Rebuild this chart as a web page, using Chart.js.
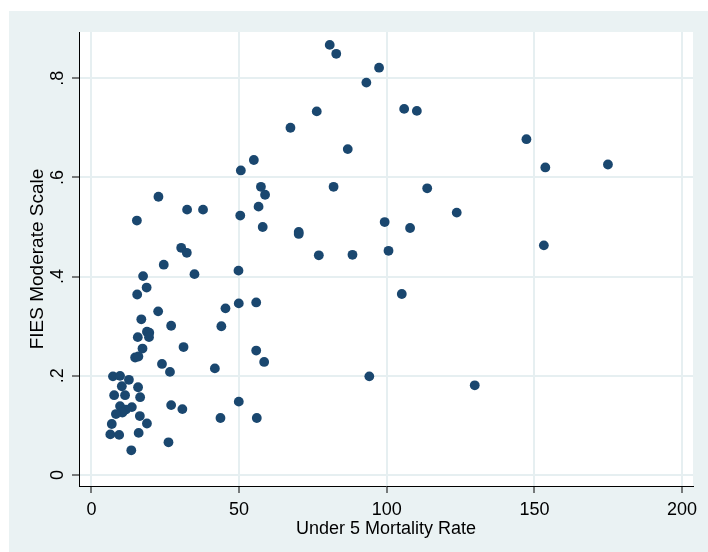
<!DOCTYPE html>
<html>
<head>
<meta charset="utf-8">
<script src="https://cdn.jsdelivr.net/npm/chart.js@4/dist/chart.umd.min.js"></script>
<style>
    body { margin: 0; background: #fff; }
    .graph { position: absolute; left: 9px; top: 11px; width: 699px; height: 541px; }
</style>
</head>
<body>
<div class="graph"><canvas id="scatterChart"></canvas></div>
<script>
// 축 눈금
const xTicks = [0, 50, 100, 150, 200];
const yTicks = [0, 0.2, 0.4, 0.6, 0.8];

// Under 5 mortality rate
const mortality = [
    17.5, 34.9, 49.8, 18.7, 15.5, 22.6, 45.4, 49.9, 55.8, 16.9,
    27.0, 44.0, 18.8, 19.6, 15.7, 19.5, 17.3, 31.2, 55.8, 14.8,
    15.9, 23.9, 58.5, 26.6, 41.8, 7.3, 9.7, 12.7, 10.3, 15.8,
    7.7, 11.4, 16.5, 27.0, 30.8, 49.9, 9.7, 13.7, 11.7, 10.5,
    8.3, 16.4, 43.7, 56.0, 6.9, 18.8, 6.4, 9.4, 16.0, 26.1,
    13.5, 55.0, 50.6, 57.4, 58.8, 22.7, 32.4, 37.8, 56.6, 15.4,
    50.4, 58.0, 70.2, 70.2, 30.4, 32.3, 24.5, 80.7, 82.9, 97.4,
    93.1, 76.3, 105.9, 110.2, 67.4, 86.8, 82.0, 113.7, 99.3, 107.9,
    77.0, 88.4, 100.6, 105.1, 147.3, 153.7, 174.9, 123.7, 153.2, 94.1,
    129.8
];

// FIES moderate scale
const fies = [
    0.401, 0.405, 0.412, 0.378, 0.364, 0.330, 0.336, 0.346, 0.348, 0.314,
    0.301, 0.300, 0.289, 0.287, 0.278, 0.278, 0.255, 0.258, 0.251, 0.237,
    0.239, 0.224, 0.228, 0.208, 0.215, 0.199, 0.200, 0.192, 0.179, 0.177,
    0.161, 0.161, 0.157, 0.141, 0.133, 0.148, 0.139, 0.137, 0.132, 0.126,
    0.123, 0.119, 0.115, 0.115, 0.103, 0.104, 0.082, 0.081, 0.085, 0.066,
    0.050, 0.635, 0.614, 0.581, 0.565, 0.561, 0.535, 0.535, 0.541, 0.513,
    0.523, 0.500, 0.490, 0.486, 0.458, 0.448, 0.424, 0.867, 0.849, 0.821,
    0.791, 0.733, 0.738, 0.734, 0.700, 0.657, 0.581, 0.578, 0.510, 0.498,
    0.443, 0.444, 0.452, 0.365, 0.677, 0.620, 0.626, 0.529, 0.463, 0.199,
    0.181
];

const points = mortality.map((x, i) => ({ x: x, y: fies[i] }));

const fontFamily = '"Liberation Sans", Arial, sans-serif';

// 배경과 흰색 플롯 영역
const backgroundPlugin = {
    id: 'stataBackground',
    beforeDraw(chart) {
        const ctx = chart.ctx;
        const area = chart.chartArea;
        ctx.save();
        ctx.fillStyle = '#EAF2F3';
        ctx.fillRect(0, 0, chart.width, chart.height);
        ctx.fillStyle = '#FFFFFF';
        ctx.fillRect(area.left, area.top, area.right - area.left, area.bottom - area.top);
        ctx.restore();
    }
};

// 세로 눈금 라벨 (90도 회전)
const yLabelPlugin = {
    id: 'rotatedYLabels',
    afterDraw(chart) {
        const ctx = chart.ctx;
        const yScale = chart.scales.y;
        ctx.save();
        ctx.fillStyle = '#000';
        ctx.font = '18px ' + fontFamily;
        ctx.textAlign = 'center';
        ctx.textBaseline = 'middle';
        yTicks.forEach(v => {
            const py = yScale.getPixelForValue(v);
            const label = v === 0 ? '0' : String(v).replace(/^0/, '');
            ctx.save();
            ctx.translate(49, py);
            ctx.rotate(-Math.PI / 2);
            ctx.fillText(label, 0, 0);
            ctx.restore();
        });
        ctx.restore();
    }
};

const ctx = document.getElementById('scatterChart').getContext('2d');
new Chart(ctx, {
    type: 'scatter',
    data: {
        datasets: [{
            data: points,
            backgroundColor: '#1A476F',
            borderWidth: 0,
            pointRadius: 4.9
        }]
    },
    options: {
        responsive: true,
        maintainAspectRatio: false,
        animation: false,
        layout: {
            autoPadding: false,
            padding: { top: 21, right: 15, left: 0, bottom: 0 }
        },
        plugins: {
            legend: { display: false },
            tooltip: { enabled: false }
        },
        scales: {
            x: {
                type: 'linear',
                min: -4.2,
                max: 203.7,
                afterBuildTicks: scale => { scale.ticks = xTicks.map(v => ({ value: v })); },
                afterFit: scale => { scale.height = 66; },
                grid: {
                    color: '#E6EFF1',
                    lineWidth: 2,
                    tickColor: '#000',
                    tickWidth: 1,
                    tickLength: 7
                },
                border: { color: '#000', width: 1 },
                ticks: {
                    color: '#000',
                    padding: 6,
                    maxRotation: 0,
                    font: { family: fontFamily, size: 18 }
                },
                title: {
                    display: true,
                    text: 'Under 5 Mortality Rate',
                    color: '#000',
                    padding: { top: 0, bottom: 12 },
                    font: { family: fontFamily, size: 18 }
                }
            },
            y: {
                type: 'linear',
                min: -0.022,
                max: 0.893,
                afterBuildTicks: scale => { scale.ticks = yTicks.map(v => ({ value: v })); },
                afterFit: scale => { scale.width = 70; },
                grid: {
                    color: '#E6EFF1',
                    lineWidth: 2,
                    tickColor: '#000',
                    tickWidth: 1,
                    tickLength: 7
                },
                border: { color: '#000', width: 1 },
                ticks: { display: false },
                title: {
                    display: true,
                    text: 'FIES Moderate Scale',
                    color: '#000',
                    padding: { top: 17, bottom: 0 },
                    font: { family: fontFamily, size: 19 }
                }
            }
        }
    },
    plugins: [backgroundPlugin, yLabelPlugin]
});
</script>
</body>
</html>
